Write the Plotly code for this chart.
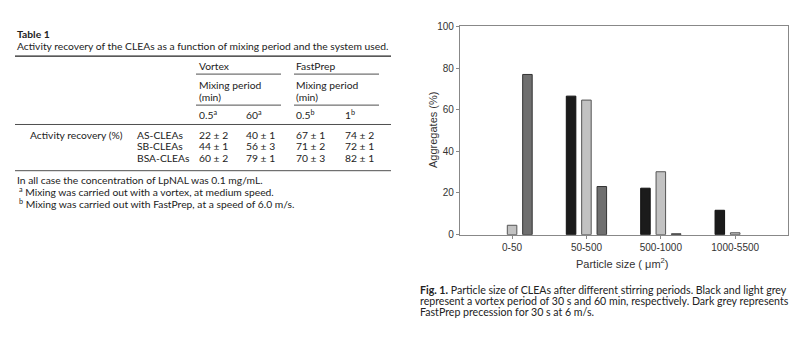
import plotly.graph_objects as go

W, H = 800, 353

# ---------------- data ----------------
categories = ["0-50", "50-500", "500-1000", "1000-5500"]
vortex_30s = [0, 66.5, 22.3, 11.7]
vortex_60min = [4.5, 64.6, 30.2, 0.9]
fastprep_30s = [76.9, 23.1, 0.4, 0]
y_ticks = [0, 20, 40, 60, 80, 100]

table_groups = ["Vortex", "FastPrep"]
table_periods = ["0.5<sup>a</sup>", "60<sup>a</sup>", "0.5<sup>b</sup>", "1<sup>b</sup>"]
table_rows = ["AS-CLEAs", "SB-CLEAs", "BSA-CLEAs"]
table_values = [
    ["22 ± 2", "40 ± 1", "67 ± 1", "74 ± 2"],
    ["44 ± 1", "56 ± 3", "71 ± 2", "72 ± 1"],
    ["60 ± 2", "79 ± 1", "70 ± 3", "82 ± 1"],
]

def px(x):
    return x / W

def py(y):
    return 1 - y / H

TFONT = "Lato"
TCOL = "#222"
TS = 10.3

fig = go.Figure()

def outline(vals, w=1):
    return [0 if v == 0 else w for v in vals]

fig.add_trace(go.Bar(x=categories, y=vortex_30s, name="Vortex 30 s",
                     marker=dict(color="#1b1b1b", line=dict(color="#111", width=outline(vortex_30s)))))
fig.add_trace(go.Bar(x=categories, y=vortex_60min, name="Vortex 60 min",
                     marker=dict(color="#c2c2c2", line=dict(color="#555", width=outline(vortex_60min)))))
fig.add_trace(go.Bar(x=categories, y=fastprep_30s, name="FastPrep 30 s",
                     marker=dict(color="#6f6f6f", line=dict(color="#333", width=outline(fastprep_30s)))))

ann = []
shapes = []

def text(x, y, s, size=TS, anchor="left", color=TCOL, font=TFONT, angle=0):
    ann.append(dict(x=px(x), y=py(y), xref="paper", yref="paper", text=s,
                    showarrow=False, xanchor=anchor, yanchor="middle",
                    textangle=angle,
                    font=dict(family=font, size=size, color=color)))

def hline(x0, x1, y, w=1, color="#222"):
    shapes.append(dict(type="line", xref="paper", yref="paper",
                       x0=px(x0), x1=px(x1), y0=py(y), y1=py(y),
                       line=dict(color=color, width=w)))

# ---------------- table ----------------
text(15, 29, "<b>Table 1</b>")
text(15, 41.7, "Activity recovery of the CLEAs as a function of mixing period and the system used.")
hline(15, 391, 51.7, 1.2)
col_x = [197, 244, 294, 343]
text(197, 62.3, table_groups[0])
text(294, 62.3, table_groups[1])
hline(196, 281, 70.3, 0.8)
hline(294, 379, 70.3, 0.8)
for gx in (197, 294):
    text(gx, 81.7, "Mixing period")
    text(gx, 94.3, "(min)")
hline(196, 281, 102.3, 0.8)
hline(294, 379, 102.3, 0.8)
for cx, p in zip(col_x, table_periods):
    text(cx, 111.7, p)
hline(15, 391, 122.3, 0.8)
row_y = [132.7, 144.3, 156.7]
text(28, row_y[0], "Activity recovery (%)")
for ry, rname, vals in zip(row_y, table_rows, table_values):
    text(135, ry, rname)
    for cx, v in zip(col_x, vals):
        text(cx, ry, v)
hline(15, 391, 170, 0.8)
text(15, 180, "In all case the concentration of LpNAL was 0.1 mg/mL.")
text(17, 191, "<sup>a</sup> Mixing was carried out with a vortex, at medium speed.")
text(17, 204.3, "<sup>b</sup> Mixing was carried out with FastPrep, at a speed of 6.0 m/s.")

# ---------------- figure caption ----------------
CS = 10.6
text(418, 292.7, "<b>Fig. 1.</b> Particle size of CLEAs after different stirring periods. Black and light grey", size=CS)
text(418, 304.3, "represent a vortex period of 30 s and 60 min, respectively. Dark grey represents", size=CS)
text(418, 316, "FastPrep precession for 30 s at 6 m/s.", size=CS)

# ---------------- chart labels ----------------
CF = "Liberation Sans"
text(433, 128, "Aggregates (%)", size=11, anchor="center", color="#333", font=CF, angle=-90)
text(622, 265, "Particle size ( μm<sup>2</sup>)", size=11, anchor="center", color="#333", font=CF)

fig.update_layout(
    width=W, height=H,
    margin=dict(l=0, r=0, t=0, b=0),
    paper_bgcolor="white", plot_bgcolor="white",
    showlegend=False,
    barmode="group", bargap=0.38, bargroupgap=0.38,
    annotations=ann, shapes=shapes,
    font=dict(family=CF, size=10, color="#333"),
    xaxis=dict(domain=[px(460), px(788)], range=[-0.70, 3.71],
               showline=True, mirror=True, linecolor="#888", linewidth=1.3,
               ticks="outside", ticklen=3, tickcolor="#888", showgrid=False,
               tickfont=dict(family=CF, size=10, color="#333")),
    yaxis=dict(domain=[py(236), py(21)], range=[0, 100], tickvals=y_ticks,
               showline=True, mirror=True, linecolor="#888", linewidth=1.3,
               ticks="outside", ticklen=3, tickcolor="#888", showgrid=False,
               zeroline=False,
               tickfont=dict(family=CF, size=10, color="#333")),
)

fig.write_html("out.html")
